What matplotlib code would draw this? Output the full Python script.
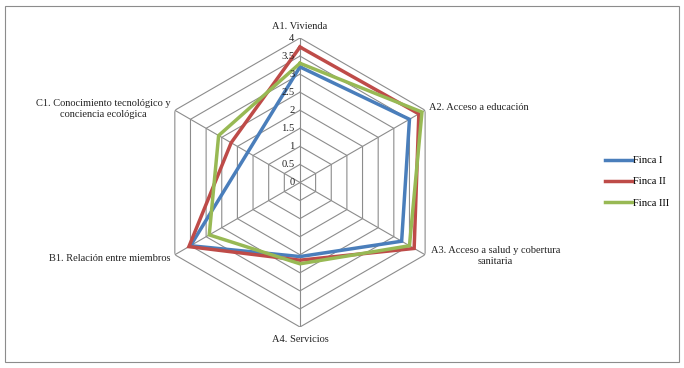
import numpy as np
import matplotlib
matplotlib.use("Agg")
import matplotlib.pyplot as plt
from matplotlib.patches import Rectangle
from matplotlib.lines import Line2D

plt.rcParams['font.family'] = ['Liberation Serif', 'DejaVu Serif']

categories = ["A1. Vivienda", "A2. Acceso a educación",
              "A3. Acceso a salud y cobertura\nsanitaria", "A4. Servicios",
              "B1. Relación entre miembros",
              "C1. Conocimiento tecnológico y\nconciencia ecológica"]
finca_1 = [3.2, 3.5, 3.25, 2.05, 3.5, 1.67]
finca_2 = [3.75, 3.8, 3.65, 2.15, 3.55, 2.2]
finca_3 = [3.3, 3.9, 3.5, 2.25, 2.9, 2.6]
series_names = ["Finca I", "Finca II", "Finca III"]
ticks = [0, 0.5, 1, 1.5, 2, 2.5, 3, 3.5, 4]

colors = ["#4A7EBB", "#BE4B48", "#98B954"]
grid_color = "#8C8C8C"

fig = plt.figure(figsize=(6.84, 3.68), dpi=100)
ax = fig.add_axes([0.2273, 0.1114, 0.4225, 0.7853], projection='polar')
ax.set_theta_offset(np.pi / 2)
ax.set_theta_direction(-1)
ax.set_ylim(0, 4)
ax.axis('off')

n = len(categories)
angles = np.linspace(0, 2 * np.pi, n, endpoint=False)
closed = np.append(angles, angles[0])

# hexagon grid + spokes
for r in ticks[1:]:
    ax.plot(closed, [r] * (n + 1), color=grid_color, lw=0.8, zorder=1)
for a in angles:
    ax.plot([a, a], [0, 4], color=grid_color, lw=0.8, zorder=1)

# series
for vals, c in zip([finca_1, finca_2, finca_3], colors):
    ax.plot(closed, vals + vals[:1], color=c, lw=2.5, zorder=3,
            solid_joinstyle='miter')

# radial tick labels
for t in ticks:
    ax.annotate(f"{t:g}", xy=(0, t), xytext=(-4, 0), textcoords='offset points',
                ha='right', va='center', fontsize=7.6, color='#222222', zorder=4)

# category labels
label_pos = [((0, 5), 'center', 'bottom'),
             ((3, 2), 'left', 'center'),
             ((4, 6), 'left', 'top'),
             ((0, -6), 'center', 'top'),
             ((-3, -3), 'right', 'center'),
             ((-3, 1), 'right', 'center')]
for a, lab, (off, ha, va) in zip(angles, categories, label_pos):
    ax.annotate(lab, xy=(a, 4), xytext=off, textcoords='offset points',
                ha=ha, va=va, multialignment='center', fontsize=7.5,
                linespacing=1.25, color='#222222', annotation_clip=False)

handles = [Line2D([], [], color=c, lw=2.5) for c in colors]
fig.legend(handles, series_names, loc='center left',
           bbox_to_anchor=(0.877, 0.506), frameon=False, fontsize=7.6,
           handlelength=2.5, handletextpad=0.15, labelspacing=1.12, borderpad=0)

fig.patches.append(Rectangle((5 / 684, 6 / 368), 674 / 684, 356 / 368,
                             transform=fig.transFigure, fill=False,
                             edgecolor='#8C8C8C', lw=0.8))

fig.savefig("out.png", dpi=100)
